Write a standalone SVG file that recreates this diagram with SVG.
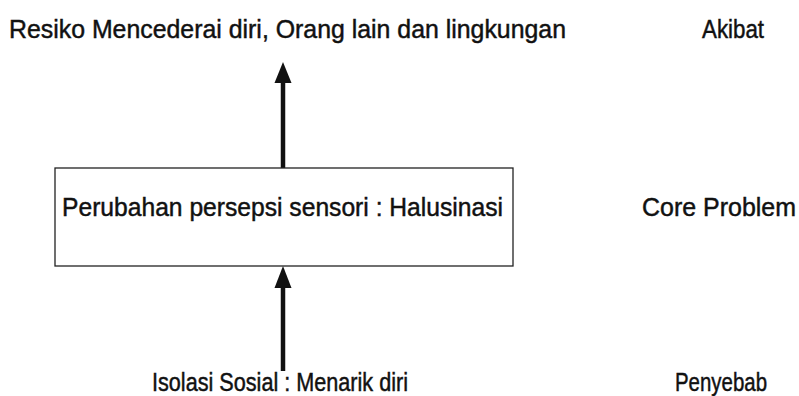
<svg xmlns="http://www.w3.org/2000/svg" width="799" height="396" viewBox="0 0 799 396">
<style>
text { font-family: "Liberation Sans", Arial, sans-serif; font-size: 25px; fill: #111; stroke: #111; stroke-width: 0.45; }
.shaft { stroke: #111; stroke-width: 4.5; fill: none; }
.head { fill: #111; }
.box { fill: #fff; stroke: #222; stroke-width: 1.3; }
</style>
<rect width="799" height="396" fill="#fff"/>
<g id="connectors">
  <line class="shaft" x1="283" y1="80" x2="283" y2="168"/>
  <polygon class="head" points="283,62 274.5,83 291.5,83"/>
  <line class="shaft" x1="283" y1="285" x2="283" y2="371"/>
  <polygon class="head" points="283,266 274.5,288 291.5,288"/>
</g>
<g id="akibat-node">
  <text x="9" y="38" textLength="557" lengthAdjust="spacingAndGlyphs">Resiko Mencederai diri, Orang lain dan lingkungan</text>
</g>
<g id="core-node">
  <rect class="box" x="55" y="168" width="458" height="98"/>
  <text x="62" y="216" textLength="441" lengthAdjust="spacingAndGlyphs">Perubahan persepsi sensori : Halusinasi</text>
</g>
<g id="penyebab-node">
  <text x="152" y="391" textLength="256" lengthAdjust="spacingAndGlyphs">Isolasi Sosial : Menarik diri</text>
</g>
<g id="labels">
  <text x="702" y="38" textLength="62" lengthAdjust="spacingAndGlyphs">Akibat</text>
  <text x="642" y="216" textLength="154" lengthAdjust="spacingAndGlyphs">Core Problem</text>
  <text x="675" y="391" textLength="92" lengthAdjust="spacingAndGlyphs">Penyebab</text>
</g>
</svg>
